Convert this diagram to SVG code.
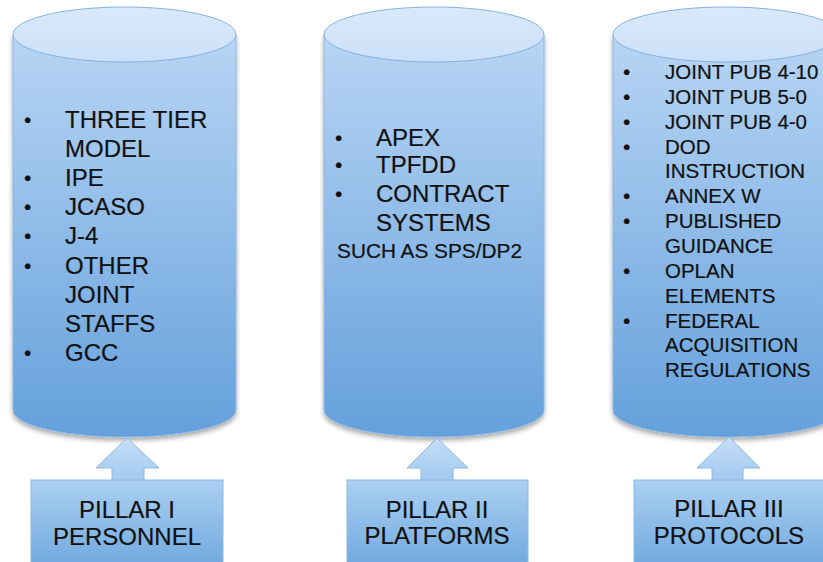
<svg xmlns="http://www.w3.org/2000/svg" width="823" height="562" viewBox="0 0 823 562">
<defs>
<linearGradient id="gBody" x1="0" y1="0" x2="0" y2="1">
<stop offset="0" stop-color="#b8d5f4"/>
<stop offset="1" stop-color="#64a0db"/>
</linearGradient>
<linearGradient id="gTop" x1="0" y1="0" x2="0" y2="1">
<stop offset="0" stop-color="#d9e9fb"/>
<stop offset="1" stop-color="#cbe0f8"/>
</linearGradient>
<linearGradient id="gBox" x1="0" y1="0" x2="0" y2="1">
<stop offset="0" stop-color="#acd0f2"/>
<stop offset="1" stop-color="#6aa5dd"/>
</linearGradient>
<linearGradient id="gArrow" x1="0" y1="0" x2="0" y2="1">
<stop offset="0" stop-color="#c4def8"/>
<stop offset="1" stop-color="#a3c9ef"/>
</linearGradient>
<filter id="sh" x="-10%" y="-10%" width="120%" height="130%">
<feGaussianBlur in="SourceAlpha" stdDeviation="2.5"/>
<feOffset dx="0" dy="3" result="b"/>
<feComponentTransfer><feFuncA type="linear" slope="0.35"/></feComponentTransfer>
<feMerge><feMergeNode/><feMergeNode in="SourceGraphic"/></feMerge>
</filter>
</defs>
<style>
.body{fill:url(#gBody);stroke:#8db8e3;stroke-width:1}
.top{fill:url(#gTop);stroke:#86b2df;stroke-width:1}
.box{fill:url(#gBox);stroke:#8db8e3;stroke-width:1}
.arr{fill:url(#gArrow);stroke:#8db8e3;stroke-width:1}
text{font-family:"Liberation Sans",Arial,Helvetica,sans-serif;fill:#111;stroke:#111;stroke-width:0.2}
.t24{font-size:24px}
.t21{font-size:20.5px}
.t20{font-size:20.5px}
.b{font-size:21px}
.lbl{font-size:24px;text-anchor:middle}
</style>

<g id="pillar1-cylinder">
<path class="body" filter="url(#sh)" d="M13,34.5 L13,410 A111.5,27 0 0 0 236,410 L236,34.5 Z"/>
<ellipse class="top" cx="124.5" cy="34.5" rx="111.5" ry="27.5"/>
<g class="t24">
<text class="b" x="24" y="127">•</text><text x="65" y="128">THREE TIER</text>
<text x="65" y="157">MODEL</text>
<text class="b" x="24" y="185">•</text><text x="65" y="186">IPE</text>
<text class="b" x="24" y="214">•</text><text x="65" y="215">JCASO</text>
<text class="b" x="24" y="243">•</text><text x="65" y="244">J-4</text>
<text class="b" x="24" y="273">•</text><text x="65" y="274">OTHER</text>
<text x="65" y="303">JOINT</text>
<text x="65" y="332">STAFFS</text>
<text class="b" x="24" y="360">•</text><text x="65" y="361">GCC</text>
</g>
</g>

<g id="pillar2-cylinder">
<path class="body" filter="url(#sh)" d="M324,34.5 L324,410 A110,27 0 0 0 544,410 L544,34.5 Z"/>
<ellipse class="top" cx="434" cy="34.5" rx="110" ry="27.5"/>
<g class="t24">
<text class="b" x="335" y="145">•</text><text x="376" y="146">APEX</text>
<text class="b" x="335" y="172">•</text><text x="376" y="173">TPFDD</text>
<text class="b" x="335" y="201">•</text><text x="376" y="202">CONTRACT</text>
<text x="376" y="231">SYSTEMS</text>
</g>
<text class="t21" x="337" y="258" textLength="185" lengthAdjust="spacingAndGlyphs">SUCH AS SPS/DP2</text>
</g>

<g id="pillar3-cylinder">
<path class="body" filter="url(#sh)" d="M613,34.5 L613,410 A113,27 0 0 0 839,410 L839,34.5 Z"/>
<ellipse class="top" cx="726" cy="34.5" rx="113" ry="27.5"/>
<g class="t20">
<text class="b" x="623" y="79">•</text><text x="665" y="79">JOINT PUB 4-10</text>
<text class="b" x="623" y="104">•</text><text x="665" y="104">JOINT PUB 5-0</text>
<text class="b" x="623" y="129">•</text><text x="665" y="129">JOINT PUB 4-0</text>
<text class="b" x="623" y="154">•</text><text x="665" y="154">DOD</text>
<text x="665" y="178">INSTRUCTION</text>
<text class="b" x="623" y="203">•</text><text x="665" y="203">ANNEX W</text>
<text class="b" x="623" y="228">•</text><text x="665" y="228">PUBLISHED</text>
<text x="665" y="253">GUIDANCE</text>
<text class="b" x="623" y="278">•</text><text x="665" y="278">OPLAN</text>
<text x="665" y="303">ELEMENTS</text>
<text class="b" x="623" y="328">•</text><text x="665" y="328">FEDERAL</text>
<text x="665" y="352">ACQUISITION</text>
<text x="665" y="377">REGULATIONS</text>
</g>
</g>

<g id="connectors">
<polygon class="arr" points="127,438 159,468 144,468 144,481 112,481 112,468 96,468"/>
<polygon class="arr" points="437,438 468,468 453,468 453,481 421,481 421,468 407,468"/>
<polygon class="arr" points="729,437 760,468 743,468 743,481 712,481 712,468 697,468"/>
</g>

<g id="pillar1-box">
<rect class="box" x="31" y="480" width="192" height="95"/>
<text class="lbl" x="127" y="518">PILLAR I</text>
<text class="lbl" x="127" y="545">PERSONNEL</text>
</g>
<g id="pillar2-box">
<rect class="box" x="347" y="480" width="181" height="95"/>
<text class="lbl" x="437" y="518">PILLAR II</text>
<text class="lbl" x="437" y="544">PLATFORMS</text>
</g>
<g id="pillar3-box">
<rect class="box" x="634" y="480" width="192" height="95"/>
<text class="lbl" x="729" y="517">PILLAR III</text>
<text class="lbl" x="729" y="544">PROTOCOLS</text>
</g>
</svg>
